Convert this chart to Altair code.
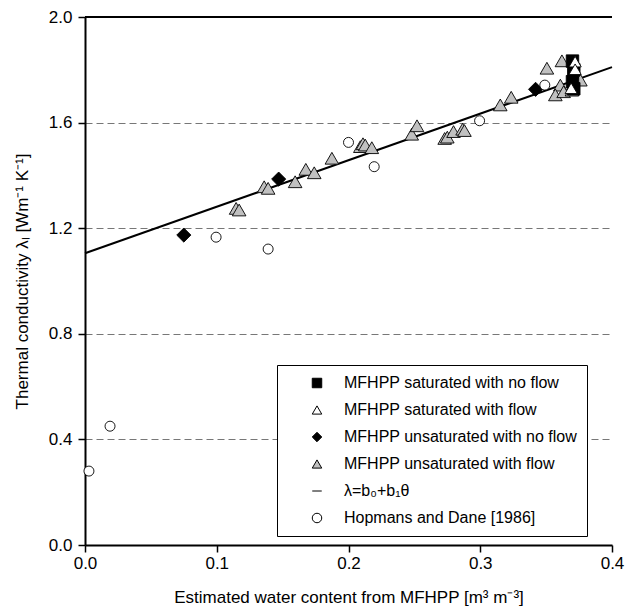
import altair as alt
import pandas as pd

# ---- data ----
sat_noflow_x = [0.370, 0.371, 0.370, 0.371]
sat_noflow_y = [1.833, 1.800, 1.755, 1.728]

sat_flow_x = [0.372, 0.372, 0.369]
sat_flow_y = [1.831, 1.802, 1.730]

unsat_noflow_x = [0.075, 0.147, 0.342]
unsat_noflow_y = [1.174, 1.386, 1.726]

unsat_flow_x = [0.1147, 0.117, 0.136, 0.139, 0.1595, 0.1676, 0.174, 0.1874,
                0.209, 0.211, 0.2127, 0.2177, 0.248, 0.252, 0.273, 0.275,
                0.2797, 0.2866, 0.288, 0.3152, 0.3235, 0.3506, 0.362, 0.3608,
                0.376, 0.357, 0.3633, 0.3696]
unsat_flow_y = [1.275, 1.269, 1.357, 1.351, 1.376, 1.423, 1.410, 1.465,
                1.509, 1.520, 1.515, 1.505, 1.556, 1.588, 1.540, 1.545,
                1.566, 1.575, 1.570, 1.667, 1.696, 1.806, 1.834, 1.742,
                1.761, 1.705, 1.717, 1.723]

hopmans_x = [0.003, 0.019, 0.0995, 0.139, 0.200, 0.2195, 0.2995, 0.349]
hopmans_y = [0.28, 0.45, 1.166, 1.121, 1.525, 1.433, 1.607, 1.742]

fit_x = [0.0, 0.4]
fit_y = [1.105, 1.81]

categories = ["MFHPP saturated with no flow", "MFHPP saturated with flow",
              "MFHPP unsaturated with no flow", "MFHPP unsaturated with flow",
              "λ=b₀+b₁θ", "Hopmans and Dane [1986]"]
shapes = ["square", "triangle-up", "diamond", "triangle-up", "stroke", "circle"]
fills = ["black", "white", "black", "#c0c0c0", "black", "white"]

y_ticks = [0.0, 0.4, 0.8, 1.2, 1.6, 2.0]
x_ticks = [0.0, 0.1, 0.2, 0.3, 0.4]

FONT = "Liberation Sans"

xscale = alt.Scale(domain=[0, 0.4], nice=False, zero=False)
yscale = alt.Scale(domain=[0, 2.0], nice=False, zero=False)
shape_scale = alt.Scale(domain=categories, range=shapes)
fill_scale = alt.Scale(domain=categories, range=fills)

xaxis = alt.Axis(values=x_ticks, format=".1f", title="Estimated water content from MFHPP [m³ m⁻³]",
                 grid=False, labelFlush=False)
yaxis = alt.Axis(values=y_ticks, format=".1f", title="Thermal conductivity λₗ [Wm⁻¹ K⁻¹]",
                 grid=True, gridDash=[7, 4], gridColor="#777777", gridWidth=1, labelFlush=False)

fit = pd.DataFrame({"x": fit_x, "y": fit_y})
line = alt.Chart(fit).mark_line(color="black", strokeWidth=2).encode(
    x=alt.X("x:Q", scale=xscale, axis=xaxis),
    y=alt.Y("y:Q", scale=yscale, axis=yaxis),
)


def point_layer(xs, ys, cat, size):
    df = pd.DataFrame({"x": xs, "y": ys, "cat": [cat] * len(xs)})
    return alt.Chart(df).mark_point(filled=True, size=size, stroke="black",
                                    strokeWidth=0.9, opacity=1).encode(
        x=alt.X("x:Q", scale=xscale),
        y=alt.Y("y:Q", scale=yscale),
        shape=alt.Shape("cat:N", scale=shape_scale, title=None),
        fill=alt.Fill("cat:N", scale=fill_scale, title=None),
    )


layers = [
    line,
    point_layer(unsat_flow_x, unsat_flow_y, categories[3], 185),
    point_layer(sat_noflow_x, sat_noflow_y, categories[0], 155),
    point_layer(sat_flow_x, sat_flow_y, categories[1], 150),
    point_layer(unsat_noflow_x, unsat_noflow_y, categories[2], 200),
    point_layer(hopmans_x, hopmans_y, categories[5], 100),
]

top = alt.Chart(pd.DataFrame({"y": [y_ticks[-1]]})).mark_rule(color="black", strokeWidth=2).encode(
    y=alt.Y("y:Q", scale=yscale)
)
layers.append(top)

chart = alt.layer(*layers).properties(
    width=527, height=528,
    padding={"left": 85, "top": 17, "right": 14, "bottom": 70},
    autosize="none",
).configure_view(stroke=None).configure_axis(
    labelFont=FONT, titleFont=FONT, labelFontSize=17, titleFontSize=17,
    labelColor="black", titleColor="black", titleFontWeight="normal",
    domainColor="black", domainWidth=2, tickColor="black", tickWidth=1.5, tickSize=7,
    labelPadding=3,
).configure_axisY(titlePadding=17, labelPadding=6).configure_axisX(titlePadding=18).configure_legend(
    orient="none", legendX=192, legendY=348,
    strokeColor="black", fillColor="white", padding=10,
    labelFont=FONT, labelFontSize=16, labelColor="black",
    symbolSize=90, symbolStrokeWidth=1, symbolOffset=22, labelOffset=19,
    rowPadding=11, labelLimit=400,
)

chart.save("out.html", embed_options={"renderer": "svg", "actions": False})
